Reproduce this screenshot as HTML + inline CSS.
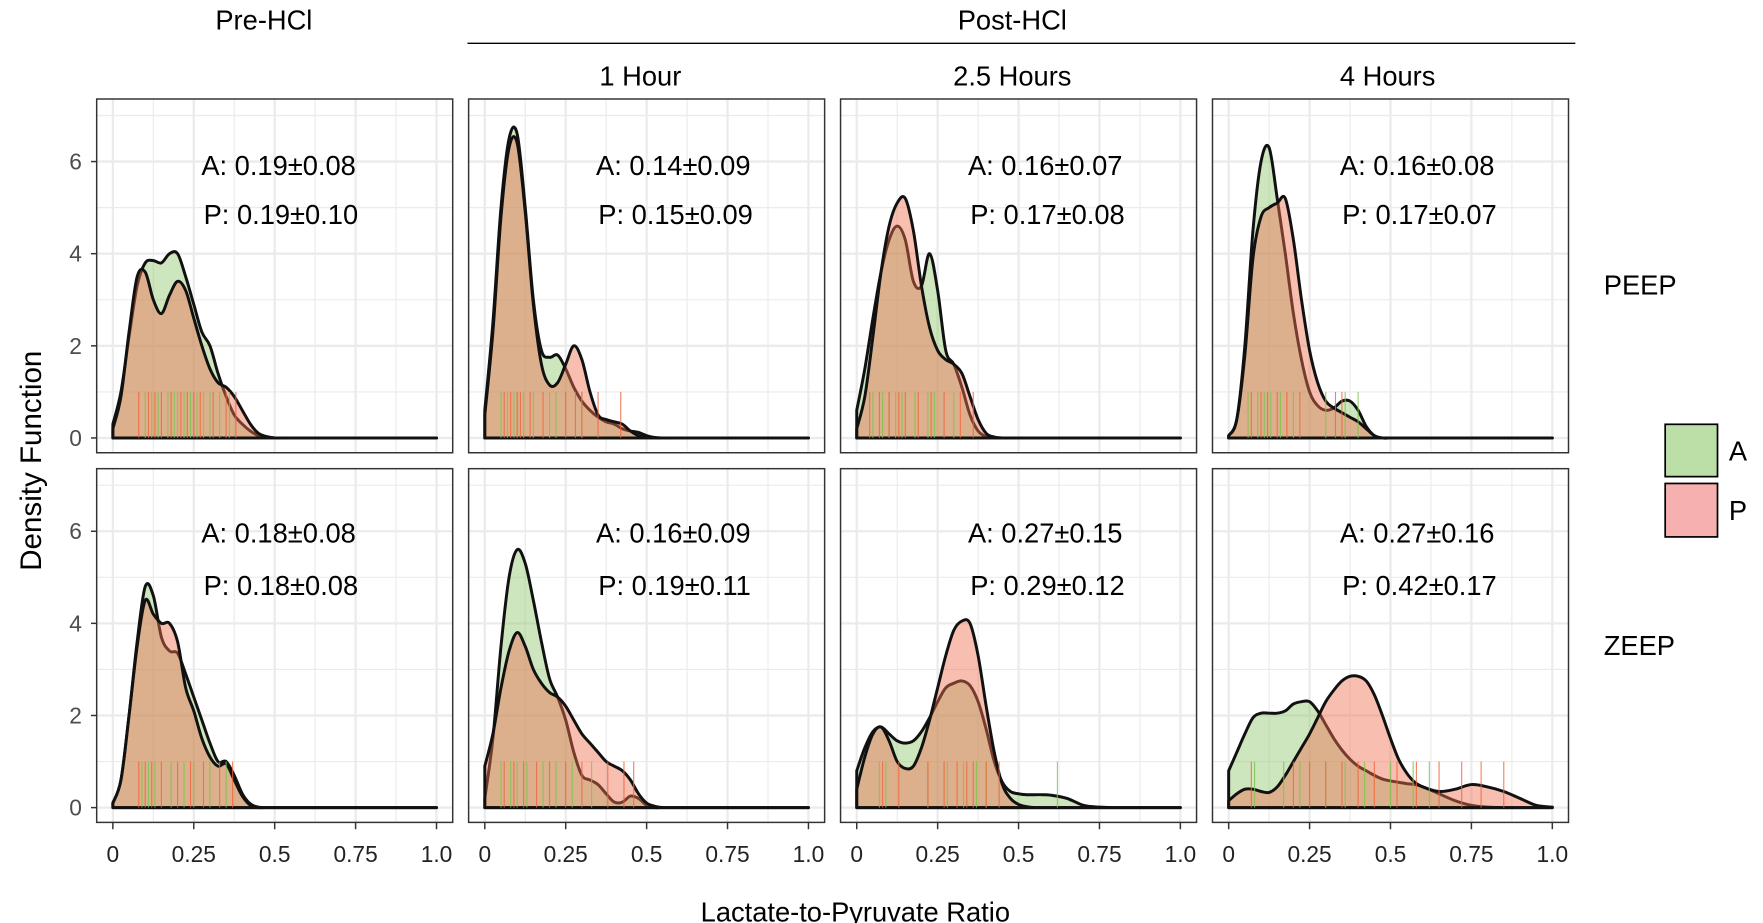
<!DOCTYPE html>
<html><head><meta charset="utf-8"><style>
html,body{margin:0;padding:0;background:#fff;}
svg{display:block;}
text{font-family:"Liberation Sans",sans-serif;}
</style></head><body>
<svg id="chart" width="1763" height="923" viewBox="0 0 1550 811.4" xmlns="http://www.w3.org/2000/svg">
<text x="232" y="26" font-size="24" text-anchor="middle">Pre-HCl</text>
<text x="890" y="26" font-size="24" text-anchor="middle">Post-HCl</text>
<line x1="411" y1="38" x2="1385" y2="38" stroke="#000" stroke-width="1.2"/>
<text x="563" y="75" font-size="24" text-anchor="middle">1 Hour</text>
<text x="890" y="75" font-size="24" text-anchor="middle">2.5 Hours</text>
<text x="1220" y="75" font-size="24" text-anchor="middle">4 Hours</text>
<text x="1410" y="259" font-size="24">PEEP</text>
<text x="1410" y="576" font-size="24">ZEEP</text>
<text transform="translate(36,405) rotate(-90)" font-size="26" text-anchor="middle">Density Function</text>
<text x="752" y="811" font-size="24" text-anchor="middle" dy="-1">Lactate-to-Pyruvate Ratio</text>
<g>
<rect x="1464" y="373" width="46" height="46" fill="#bcdfa8" stroke="#000" stroke-width="1.5"/>
<text x="1520" y="405" font-size="24">A</text>
<rect x="1464" y="425" width="46" height="47" fill="#f7b0b0" stroke="#000" stroke-width="1.5"/>
<text x="1520" y="457" font-size="24">P</text>
</g>
<g id="panels"></g>
</svg>
<script>
const xGrid = [0,.025,.05,.075,.1,.125,.15,.175,.2,.225,.25,.275,.3,.325,.35,.375,.4,.425,.45,.475,.5,.525,.55,.575,.6,.65,.7,.75,.8,.85,.9,.95,1];
const xTicks = [0,0.25,0.5,0.75,1.0];
const xTickLabels = ["0","0.25","0.5","0.75","1.0"];
const yTicks = [0,2,4,6];
const yTickLabels = ["0","2","4","6"];
const densA_peep_pre = [0.3,1.0,2.2,3.3,3.8,3.85,3.8,4.0,4.0,3.5,2.9,2.3,2.0,1.4,0.9,0.5,0.3,0.15,0.05,0.02,0,0,0,0,0,0,0,0,0,0,0,0,0];
const densP_peep_pre = [0.2,0.9,2.3,3.5,3.6,3.0,2.7,3.1,3.4,3.2,2.6,2.0,1.5,1.2,1.1,0.9,0.6,0.3,0.1,0.03,0,0,0,0,0,0,0,0,0,0,0,0,0];
const densA_peep_1h = [0.6,2.5,5.0,6.5,6.6,5.0,3.0,1.9,1.75,1.8,1.5,1.1,0.8,0.6,0.45,0.35,0.3,0.2,0.15,0.12,0.05,0.01,0,0,0,0,0,0,0,0,0,0,0];
const densP_peep_1h = [0.5,2.3,4.8,6.3,6.4,4.9,2.9,1.6,1.15,1.2,1.6,2.0,1.7,1.0,0.5,0.4,0.35,0.3,0.15,0.05,0.02,0,0,0,0,0,0,0,0,0,0,0,0];
const densA_peep_25h = [0.6,1.5,2.6,3.6,4.3,4.6,4.3,3.4,3.3,4.0,3.2,1.9,1.6,1.1,0.5,0.15,0.03,0,0,0,0,0,0,0,0,0,0,0,0,0,0,0,0];
const densP_peep_25h = [0.2,0.9,2.2,3.6,4.6,5.1,5.2,4.5,3.3,2.4,1.9,1.7,1.6,1.4,0.9,0.4,0.1,0.02,0,0,0,0,0,0,0,0,0,0,0,0,0,0,0];
const densA_peep_4h = [0.05,0.4,2.0,4.5,6.0,6.3,5.2,4.0,2.7,1.7,1.0,0.7,0.6,0.65,0.8,0.8,0.6,0.25,0.05,0,0,0,0,0,0,0,0,0,0,0,0,0,0];
const densP_peep_4h = [0.05,0.4,1.8,3.9,4.8,5.0,5.1,5.2,4.3,3.0,1.9,1.2,0.8,0.65,0.55,0.45,0.35,0.2,0.05,0,0,0,0,0,0,0,0,0,0,0,0,0,0];
const densA_zeep_pre = [0.1,0.6,2.0,3.6,4.8,4.6,3.7,3.4,3.35,2.9,2.4,1.9,1.4,1.0,1.0,0.7,0.3,0.08,0.01,0,0,0,0,0,0,0,0,0,0,0,0,0,0];
const densP_zeep_pre = [0.1,0.6,2.0,3.5,4.5,4.2,4.0,4.0,3.6,2.6,2.1,1.5,1.1,0.9,0.95,0.6,0.25,0.05,0,0,0,0,0,0,0,0,0,0,0,0,0,0,0];
const densA_zeep_1h = [0.2,1.5,3.5,5.0,5.6,5.3,4.5,3.6,2.8,2.4,1.9,1.2,0.7,0.6,0.5,0.3,0.12,0.12,0.25,0.2,0.05,0,0,0,0,0,0,0,0,0,0,0,0];
const densP_zeep_1h = [0.9,1.6,2.6,3.4,3.8,3.5,3.0,2.7,2.5,2.4,2.2,1.9,1.6,1.4,1.2,1.0,0.9,0.8,0.6,0.3,0.1,0.03,0,0,0,0,0,0,0,0,0,0,0];
const densA_zeep_25h = [0.8,1.3,1.65,1.75,1.6,1.45,1.4,1.45,1.65,1.95,2.3,2.6,2.7,2.75,2.65,2.3,1.7,1.0,0.55,0.35,0.3,0.28,0.28,0.28,0.27,0.2,0.05,0.01,0,0,0,0,0];
const densP_zeep_25h = [0.4,1.1,1.6,1.75,1.45,1.0,0.85,0.9,1.3,1.9,2.6,3.3,3.85,4.05,4.0,3.3,2.2,1.2,0.5,0.2,0.07,0.02,0,0,0,0,0,0,0,0,0,0,0];
const densA_zeep_4h = [0.8,1.2,1.6,1.95,2.05,2.05,2.05,2.1,2.25,2.3,2.3,2.1,1.8,1.5,1.25,1.05,0.9,0.8,0.7,0.62,0.58,0.55,0.52,0.5,0.45,0.3,0.15,0.05,0.01,0,0,0,0];
const densP_zeep_4h = [0.15,0.3,0.4,0.4,0.35,0.33,0.45,0.7,1.0,1.3,1.6,1.95,2.3,2.55,2.75,2.85,2.85,2.75,2.45,2.0,1.5,1.05,0.75,0.55,0.45,0.35,0.4,0.5,0.45,0.35,0.2,0.05,0.01];
const rugA_peep_pre = [0.1,0.12,0.14,0.17,0.19,0.2,0.22,0.24,0.26,0.28,0.3,0.33,0.36];
const rugP_peep_pre = [0.08,0.11,0.13,0.15,0.18,0.21,0.23,0.25,0.27,0.31,0.35,0.38];
const rugA_peep_1h = [0.05,0.07,0.09,0.1,0.12,0.15,0.2,0.22,0.3];
const rugP_peep_1h = [0.06,0.08,0.1,0.11,0.14,0.18,0.25,0.28,0.3,0.35,0.42];
const rugA_peep_25h = [0.05,0.08,0.1,0.12,0.14,0.18,0.22,0.24,0.3];
const rugP_peep_25h = [0.04,0.07,0.1,0.13,0.15,0.19,0.23,0.27,0.32,0.36];
const rugA_peep_4h = [0.06,0.09,0.11,0.13,0.16,0.2,0.3,0.36,0.4];
const rugP_peep_4h = [0.07,0.1,0.12,0.15,0.18,0.22,0.33,0.35];
const rugA_zeep_pre = [0.09,0.11,0.13,0.18,0.22,0.25,0.3,0.35];
const rugP_zeep_pre = [0.08,0.1,0.12,0.15,0.2,0.24,0.28,0.33,0.37];
const rugA_zeep_1h = [0.05,0.08,0.1,0.13,0.18,0.22,0.27,0.33];
const rugP_zeep_1h = [0.06,0.09,0.12,0.16,0.2,0.25,0.3,0.38,0.43,0.46];
const rugA_zeep_25h = [0.07,0.09,0.22,0.28,0.33,0.37,0.4,0.62];
const rugP_zeep_25h = [0.08,0.13,0.22,0.27,0.31,0.34,0.36,0.4,0.44];
const rugA_zeep_4h = [0.08,0.17,0.22,0.3,0.36,0.42,0.5,0.57,0.62];
const rugP_zeep_4h = [0.07,0.2,0.25,0.3,0.35,0.4,0.45,0.52,0.58,0.65,0.72,0.78,0.85];
const statsA = ["A: 0.19±0.08","A: 0.14±0.09","A: 0.16±0.07","A: 0.16±0.08","A: 0.18±0.08","A: 0.16±0.09","A: 0.27±0.15","A: 0.27±0.16"];
const statsP = ["P: 0.19±0.10","P: 0.15±0.09","P: 0.17±0.08","P: 0.17±0.07","P: 0.18±0.08","P: 0.19±0.11","P: 0.29±0.12","P: 0.42±0.17"];

const NS="http://www.w3.org/2000/svg";
const root=document.getElementById('panels');
const colLefts=[85,412,739,1066], rowTops=[87,412], PW=313, PH=311;
const panelNames=["peep-pre-hcl","peep-1-hour","peep-2-5-hours","peep-4-hours","zeep-pre-hcl","zeep-1-hour","zeep-2-5-hours","zeep-4-hours"];
const densA=[densA_peep_pre,densA_peep_1h,densA_peep_25h,densA_peep_4h,densA_zeep_pre,densA_zeep_1h,densA_zeep_25h,densA_zeep_4h];
const densP=[densP_peep_pre,densP_peep_1h,densP_peep_25h,densP_peep_4h,densP_zeep_pre,densP_zeep_1h,densP_zeep_25h,densP_zeep_4h];
const rugA=[rugA_peep_pre,rugA_peep_1h,rugA_peep_25h,rugA_peep_4h,rugA_zeep_pre,rugA_zeep_1h,rugA_zeep_25h,rugA_zeep_4h];
const rugP=[rugP_peep_pre,rugP_peep_1h,rugP_peep_25h,rugP_peep_4h,rugP_zeep_pre,rugP_zeep_1h,rugP_zeep_25h,rugP_zeep_4h];
function mk(tag,attrs,parent){const e=document.createElementNS(NS,tag);for(const k in attrs)e.setAttribute(k,attrs[k]);(parent||root).appendChild(e);return e;}
function curve(pts){let d='M'+pts[0][0]+','+pts[0][1];for(let i=0;i<pts.length-1;i++){const p0=pts[i-1]||pts[i],p1=pts[i],p2=pts[i+1],p3=pts[i+2]||p2;const c1x=p1[0]+(p2[0]-p0[0])/6,c1y=p1[1]+(p2[1]-p0[1])/6,c2x=p2[0]-(p3[0]-p1[0])/6,c2y=p2[1]-(p3[1]-p1[1])/6;d+=`C${c1x},${c1y},${c2x},${c2y},${p2[0]},${p2[1]}`;}return d;}
for(let i=0;i<8;i++){
  const r=Math.floor(i/4),c=i%4,L=colLefts[c],T=rowTops[r];
  const X=v=>L+(v+0.05)/1.1*PW;
  const Y=v=>T+PH-13-v*40.5;
  const g=mk('g',{});
  
  
  for(let m=0;m<=7;m++){const ln=mk('line',{x1:L,x2:L+PW,y1:Y(m),y2:Y(m),stroke:'#ebebeb','stroke-width':m%2?1:2},g);}
  for(let m=0;m<=8;m++){const ln=mk('line',{x1:X(m/8),x2:X(m/8),y1:T,y2:T+PH,stroke:'#ebebeb','stroke-width':m%2?1:2},g);}
  [[densA[i],'rgba(144,200,110,0.45)','density-a'],[densP[i],'rgba(240,110,80,0.45)','density-p']].forEach(([arr,fill,nm])=>{
    const pts=xGrid.map((x,k)=>[X(x),Y(arr[k])]);
    const d=curve(pts);
    const f=mk('path',{d:d+`L${X(1)},${Y(0)}L${X(0)},${Y(0)}Z`,fill:fill,stroke:'none'},g);
    
    
    const s=mk('path',{d:`M${X(0)},${Y(0)}L${pts[0][0]},${pts[0][1]}`+d.slice(d.indexOf('C'))+`L${X(1)},${Y(0)}Z`,fill:'none',stroke:'#111','stroke-width':2.6,'stroke-linejoin':'round'},g);
    
    
  });
  [[rugA[i],'#7cc44e'],[rugP[i],'#f0643c']].forEach(([arr,col])=>{arr.forEach(v=>{const ln=mk('line',{x1:X(v),x2:X(v),y1:Y(0),y2:Y(1),stroke:col,'stroke-width':1,opacity:0.8},g);});});
  const tx=L+(c===0?92:112);
  const ta=mk('text',{x:tx,y:r?477:154,'font-size':24},g);ta.textContent=statsA[i];
  
  
  const tp=mk('text',{x:tx+2,y:r?523:197,'font-size':24},g);tp.textContent=statsP[i];
  
  
  const b=mk('rect',{x:L,y:T,width:PW,height:PH,fill:'none',stroke:'#333','stroke-width':1.3},g);
  
  
  if(c===0){yTicks.forEach((v,k)=>{const t=mk('line',{x1:L-5,x2:L,y1:Y(v),y2:Y(v),stroke:'#333','stroke-width':1.3});
    const tl=mk('text',{x:L-13,y:Y(v)+7,'font-size':20,'text-anchor':'end',fill:'#4d4d4d'});tl.textContent=yTickLabels[k];});}
  if(r===1){xTicks.forEach((v,k)=>{const t=mk('line',{x1:X(v),x2:X(v),y1:T+PH,y2:T+PH+6,stroke:'#333','stroke-width':1.3});
    const tl=mk('text',{x:X(v),y:T+PH+35,'font-size':20,'text-anchor':'middle',fill:'#222'});tl.textContent=xTickLabels[k];});}
}
</script>
</body></html>
